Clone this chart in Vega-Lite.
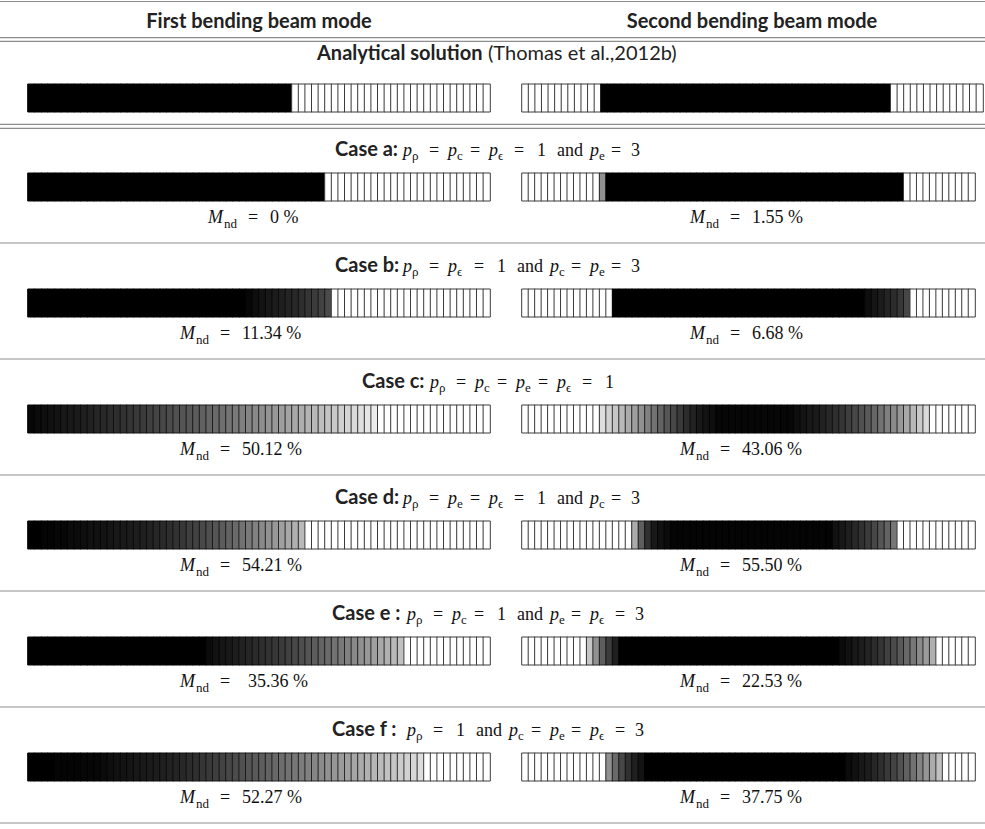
{
"width": 985, "height": 829, "padding": 0, "autosize": {"type": "none"},
"background": "white",
"config": {"view": {"stroke": null}},
"datasets": {
"lines": [{"k":-1,"p":"t"},{"k":-1,"p":"d1"},{"k":-1,"p":"d2"},{"k":-1,"p":"d3"},{"k":-1,"p":"d4"},{"k":0,"p":"s"},{"k":1,"p":"s"},{"k":2,"p":"s"},{"k":3,"p":"s"},{"k":4,"p":"s"},{"k":5,"p":"s"}],
"txt": [
{"n":0,"r":"h","k":-1,"s":"B","t":"First bending beam mode"},
{"n":1,"r":"h","k":-1,"s":"B","t":"Second bending beam mode"},
{"n":2,"r":"a","k":-1,"s":"B","t":"Analytical solution"},
{"n":3,"r":"a","k":-1,"s":"R","t":"(Thomas et al.,2012b)"},
{"n":4,"r":"t","k":0,"s":"B","t":"Case a:"},{"n":5,"r":"t","k":0,"s":"I","t":"p"},{"n":6,"r":"t","k":0,"s":"S","t":"ρ"},{"n":7,"r":"t","k":0,"s":"R","t":"="},{"n":8,"r":"t","k":0,"s":"I","t":"p"},{"n":9,"r":"t","k":0,"s":"S","t":"c"},{"n":10,"r":"t","k":0,"s":"R","t":"="},{"n":11,"r":"t","k":0,"s":"I","t":"p"},{"n":12,"r":"t","k":0,"s":"S","t":"ϵ"},{"n":13,"r":"t","k":0,"s":"R","t":"="},{"n":14,"r":"t","k":0,"s":"R","t":"1"},{"n":15,"r":"t","k":0,"s":"R","t":"and"},{"n":16,"r":"t","k":0,"s":"I","t":"p"},{"n":17,"r":"t","k":0,"s":"S","t":"e"},{"n":18,"r":"t","k":0,"s":"R","t":"="},{"n":19,"r":"t","k":0,"s":"R","t":"3"},
{"n":20,"r":"t","k":1,"s":"B","t":"Case b:"},{"n":21,"r":"t","k":1,"s":"I","t":"p"},{"n":22,"r":"t","k":1,"s":"S","t":"ρ"},{"n":23,"r":"t","k":1,"s":"R","t":"="},{"n":24,"r":"t","k":1,"s":"I","t":"p"},{"n":25,"r":"t","k":1,"s":"S","t":"ϵ"},{"n":26,"r":"t","k":1,"s":"R","t":"="},{"n":27,"r":"t","k":1,"s":"R","t":"1"},{"n":28,"r":"t","k":1,"s":"R","t":"and"},{"n":29,"r":"t","k":1,"s":"I","t":"p"},{"n":30,"r":"t","k":1,"s":"S","t":"c"},{"n":31,"r":"t","k":1,"s":"R","t":"="},{"n":32,"r":"t","k":1,"s":"I","t":"p"},{"n":33,"r":"t","k":1,"s":"S","t":"e"},{"n":34,"r":"t","k":1,"s":"R","t":"="},{"n":35,"r":"t","k":1,"s":"R","t":"3"},
{"n":36,"r":"t","k":2,"s":"B","t":"Case c:"},{"n":37,"r":"t","k":2,"s":"I","t":"p"},{"n":38,"r":"t","k":2,"s":"S","t":"ρ"},{"n":39,"r":"t","k":2,"s":"R","t":"="},{"n":40,"r":"t","k":2,"s":"I","t":"p"},{"n":41,"r":"t","k":2,"s":"S","t":"c"},{"n":42,"r":"t","k":2,"s":"R","t":"="},{"n":43,"r":"t","k":2,"s":"I","t":"p"},{"n":44,"r":"t","k":2,"s":"S","t":"e"},{"n":45,"r":"t","k":2,"s":"R","t":"="},{"n":46,"r":"t","k":2,"s":"I","t":"p"},{"n":47,"r":"t","k":2,"s":"S","t":"ϵ"},{"n":48,"r":"t","k":2,"s":"R","t":"="},{"n":49,"r":"t","k":2,"s":"R","t":"1"},
{"n":50,"r":"t","k":3,"s":"B","t":"Case d:"},{"n":51,"r":"t","k":3,"s":"I","t":"p"},{"n":52,"r":"t","k":3,"s":"S","t":"ρ"},{"n":53,"r":"t","k":3,"s":"R","t":"="},{"n":54,"r":"t","k":3,"s":"I","t":"p"},{"n":55,"r":"t","k":3,"s":"S","t":"e"},{"n":56,"r":"t","k":3,"s":"R","t":"="},{"n":57,"r":"t","k":3,"s":"I","t":"p"},{"n":58,"r":"t","k":3,"s":"S","t":"ϵ"},{"n":59,"r":"t","k":3,"s":"R","t":"="},{"n":60,"r":"t","k":3,"s":"R","t":"1"},{"n":61,"r":"t","k":3,"s":"R","t":"and"},{"n":62,"r":"t","k":3,"s":"I","t":"p"},{"n":63,"r":"t","k":3,"s":"S","t":"c"},{"n":64,"r":"t","k":3,"s":"R","t":"="},{"n":65,"r":"t","k":3,"s":"R","t":"3"},
{"n":66,"r":"t","k":4,"s":"B","t":"Case e :"},{"n":67,"r":"t","k":4,"s":"I","t":"p"},{"n":68,"r":"t","k":4,"s":"S","t":"ρ"},{"n":69,"r":"t","k":4,"s":"R","t":"="},{"n":70,"r":"t","k":4,"s":"I","t":"p"},{"n":71,"r":"t","k":4,"s":"S","t":"c"},{"n":72,"r":"t","k":4,"s":"R","t":"="},{"n":73,"r":"t","k":4,"s":"R","t":"1"},{"n":74,"r":"t","k":4,"s":"R","t":"and"},{"n":75,"r":"t","k":4,"s":"I","t":"p"},{"n":76,"r":"t","k":4,"s":"S","t":"e"},{"n":77,"r":"t","k":4,"s":"R","t":"="},{"n":78,"r":"t","k":4,"s":"I","t":"p"},{"n":79,"r":"t","k":4,"s":"S","t":"ϵ"},{"n":80,"r":"t","k":4,"s":"R","t":"="},{"n":81,"r":"t","k":4,"s":"R","t":"3"},
{"n":82,"r":"t","k":5,"s":"B","t":"Case f :"},{"n":83,"r":"t","k":5,"s":"I","t":"p"},{"n":84,"r":"t","k":5,"s":"S","t":"ρ"},{"n":85,"r":"t","k":5,"s":"R","t":"="},{"n":86,"r":"t","k":5,"s":"R","t":"1"},{"n":87,"r":"t","k":5,"s":"R","t":"and"},{"n":88,"r":"t","k":5,"s":"I","t":"p"},{"n":89,"r":"t","k":5,"s":"S","t":"c"},{"n":90,"r":"t","k":5,"s":"R","t":"="},{"n":91,"r":"t","k":5,"s":"I","t":"p"},{"n":92,"r":"t","k":5,"s":"S","t":"e"},{"n":93,"r":"t","k":5,"s":"R","t":"="},{"n":94,"r":"t","k":5,"s":"I","t":"p"},{"n":95,"r":"t","k":5,"s":"S","t":"ϵ"},{"n":96,"r":"t","k":5,"s":"R","t":"="},{"n":97,"r":"t","k":5,"s":"R","t":"3"},
{"n":98,"r":"m","k":0,"s":"I","t":"M"},{"n":99,"r":"m","k":0,"s":"S","t":"nd"},{"n":100,"r":"m","k":0,"s":"R","t":"="},{"n":101,"r":"m","k":0,"s":"R","t":"0 %"},
{"n":102,"r":"m","k":0,"s":"I","t":"M"},{"n":103,"r":"m","k":0,"s":"S","t":"nd"},{"n":104,"r":"m","k":0,"s":"R","t":"="},{"n":105,"r":"m","k":0,"s":"R","t":"1.55 %"},
{"n":106,"r":"m","k":1,"s":"I","t":"M"},{"n":107,"r":"m","k":1,"s":"S","t":"nd"},{"n":108,"r":"m","k":1,"s":"R","t":"="},{"n":109,"r":"m","k":1,"s":"R","t":"11.34 %"},
{"n":110,"r":"m","k":1,"s":"I","t":"M"},{"n":111,"r":"m","k":1,"s":"S","t":"nd"},{"n":112,"r":"m","k":1,"s":"R","t":"="},{"n":113,"r":"m","k":1,"s":"R","t":"6.68 %"},
{"n":114,"r":"m","k":2,"s":"I","t":"M"},{"n":115,"r":"m","k":2,"s":"S","t":"nd"},{"n":116,"r":"m","k":2,"s":"R","t":"="},{"n":117,"r":"m","k":2,"s":"R","t":"50.12 %"},
{"n":118,"r":"m","k":2,"s":"I","t":"M"},{"n":119,"r":"m","k":2,"s":"S","t":"nd"},{"n":120,"r":"m","k":2,"s":"R","t":"="},{"n":121,"r":"m","k":2,"s":"R","t":"43.06 %"},
{"n":122,"r":"m","k":3,"s":"I","t":"M"},{"n":123,"r":"m","k":3,"s":"S","t":"nd"},{"n":124,"r":"m","k":3,"s":"R","t":"="},{"n":125,"r":"m","k":3,"s":"R","t":"54.21 %"},
{"n":126,"r":"m","k":3,"s":"I","t":"M"},{"n":127,"r":"m","k":3,"s":"S","t":"nd"},{"n":128,"r":"m","k":3,"s":"R","t":"="},{"n":129,"r":"m","k":3,"s":"R","t":"55.50 %"},
{"n":130,"r":"m","k":4,"s":"I","t":"M"},{"n":131,"r":"m","k":4,"s":"S","t":"nd"},{"n":132,"r":"m","k":4,"s":"R","t":"="},{"n":133,"r":"m","k":4,"s":"R","t":"35.36 %"},
{"n":134,"r":"m","k":4,"s":"I","t":"M"},{"n":135,"r":"m","k":4,"s":"S","t":"nd"},{"n":136,"r":"m","k":4,"s":"R","t":"="},{"n":137,"r":"m","k":4,"s":"R","t":"22.53 %"},
{"n":138,"r":"m","k":5,"s":"I","t":"M"},{"n":139,"r":"m","k":5,"s":"S","t":"nd"},{"n":140,"r":"m","k":5,"s":"R","t":"="},{"n":141,"r":"m","k":5,"s":"R","t":"52.27 %"},
{"n":142,"r":"m","k":5,"s":"I","t":"M"},{"n":143,"r":"m","k":5,"s":"S","t":"nd"},{"n":144,"r":"m","k":5,"s":"R","t":"="},{"n":145,"r":"m","k":5,"s":"R","t":"37.75 %"}
],
"cells": [
{"m":"L","k":-1,"i":0,"v":0},{"m":"L","k":-1,"i":1,"v":0},{"m":"L","k":-1,"i":2,"v":0},{"m":"L","k":-1,"i":3,"v":0},{"m":"L","k":-1,"i":4,"v":0},{"m":"L","k":-1,"i":5,"v":0},{"m":"L","k":-1,"i":6,"v":0},{"m":"L","k":-1,"i":7,"v":0},{"m":"L","k":-1,"i":8,"v":0},{"m":"L","k":-1,"i":9,"v":0},
{"m":"L","k":-1,"i":10,"v":0},{"m":"L","k":-1,"i":11,"v":0},{"m":"L","k":-1,"i":12,"v":0},{"m":"L","k":-1,"i":13,"v":0},{"m":"L","k":-1,"i":14,"v":0},{"m":"L","k":-1,"i":15,"v":0},{"m":"L","k":-1,"i":16,"v":0},{"m":"L","k":-1,"i":17,"v":0},{"m":"L","k":-1,"i":18,"v":0},{"m":"L","k":-1,"i":19,"v":0},
{"m":"L","k":-1,"i":20,"v":0},{"m":"L","k":-1,"i":21,"v":0},{"m":"L","k":-1,"i":22,"v":0},{"m":"L","k":-1,"i":23,"v":0},{"m":"L","k":-1,"i":24,"v":0},{"m":"L","k":-1,"i":25,"v":0},{"m":"L","k":-1,"i":26,"v":0},{"m":"L","k":-1,"i":27,"v":0},{"m":"L","k":-1,"i":28,"v":0},{"m":"L","k":-1,"i":29,"v":0},
{"m":"L","k":-1,"i":30,"v":0},{"m":"L","k":-1,"i":31,"v":0},{"m":"L","k":-1,"i":32,"v":0},{"m":"L","k":-1,"i":33,"v":0},{"m":"L","k":-1,"i":34,"v":0},{"m":"L","k":-1,"i":35,"v":0},{"m":"L","k":-1,"i":36,"v":0},{"m":"L","k":-1,"i":37,"v":0},{"m":"L","k":-1,"i":38,"v":0},{"m":"L","k":-1,"i":39,"v":0},
{"m":"L","k":-1,"i":40,"v":1},{"m":"L","k":-1,"i":41,"v":1},{"m":"L","k":-1,"i":42,"v":1},{"m":"L","k":-1,"i":43,"v":1},{"m":"L","k":-1,"i":44,"v":1},{"m":"L","k":-1,"i":45,"v":1},{"m":"L","k":-1,"i":46,"v":1},{"m":"L","k":-1,"i":47,"v":1},{"m":"L","k":-1,"i":48,"v":1},{"m":"L","k":-1,"i":49,"v":1},
{"m":"L","k":-1,"i":50,"v":1},{"m":"L","k":-1,"i":51,"v":1},{"m":"L","k":-1,"i":52,"v":1},{"m":"L","k":-1,"i":53,"v":1},{"m":"L","k":-1,"i":54,"v":1},{"m":"L","k":-1,"i":55,"v":1},{"m":"L","k":-1,"i":56,"v":1},{"m":"L","k":-1,"i":57,"v":1},{"m":"L","k":-1,"i":58,"v":1},{"m":"L","k":-1,"i":59,"v":1},
{"m":"L","k":-1,"i":60,"v":1},{"m":"L","k":-1,"i":61,"v":1},{"m":"L","k":-1,"i":62,"v":1},{"m":"L","k":-1,"i":63,"v":1},{"m":"L","k":-1,"i":64,"v":1},{"m":"L","k":-1,"i":65,"v":1},{"m":"L","k":-1,"i":66,"v":1},{"m":"L","k":-1,"i":67,"v":1},{"m":"L","k":-1,"i":68,"v":1},{"m":"L","k":-1,"i":69,"v":1},
{"m":"R","k":-1,"i":0,"v":1},{"m":"R","k":-1,"i":1,"v":1},{"m":"R","k":-1,"i":2,"v":1},{"m":"R","k":-1,"i":3,"v":1},{"m":"R","k":-1,"i":4,"v":1},{"m":"R","k":-1,"i":5,"v":1},{"m":"R","k":-1,"i":6,"v":1},{"m":"R","k":-1,"i":7,"v":1},{"m":"R","k":-1,"i":8,"v":1},{"m":"R","k":-1,"i":9,"v":1},
{"m":"R","k":-1,"i":10,"v":1},{"m":"R","k":-1,"i":11,"v":1},{"m":"R","k":-1,"i":12,"v":0},{"m":"R","k":-1,"i":13,"v":0},{"m":"R","k":-1,"i":14,"v":0},{"m":"R","k":-1,"i":15,"v":0},{"m":"R","k":-1,"i":16,"v":0},{"m":"R","k":-1,"i":17,"v":0},{"m":"R","k":-1,"i":18,"v":0},{"m":"R","k":-1,"i":19,"v":0},
{"m":"R","k":-1,"i":20,"v":0},{"m":"R","k":-1,"i":21,"v":0},{"m":"R","k":-1,"i":22,"v":0},{"m":"R","k":-1,"i":23,"v":0},{"m":"R","k":-1,"i":24,"v":0},{"m":"R","k":-1,"i":25,"v":0},{"m":"R","k":-1,"i":26,"v":0},{"m":"R","k":-1,"i":27,"v":0},{"m":"R","k":-1,"i":28,"v":0},{"m":"R","k":-1,"i":29,"v":0},
{"m":"R","k":-1,"i":30,"v":0},{"m":"R","k":-1,"i":31,"v":0},{"m":"R","k":-1,"i":32,"v":0},{"m":"R","k":-1,"i":33,"v":0},{"m":"R","k":-1,"i":34,"v":0},{"m":"R","k":-1,"i":35,"v":0},{"m":"R","k":-1,"i":36,"v":0},{"m":"R","k":-1,"i":37,"v":0},{"m":"R","k":-1,"i":38,"v":0},{"m":"R","k":-1,"i":39,"v":0},
{"m":"R","k":-1,"i":40,"v":0},{"m":"R","k":-1,"i":41,"v":0},{"m":"R","k":-1,"i":42,"v":0},{"m":"R","k":-1,"i":43,"v":0},{"m":"R","k":-1,"i":44,"v":0},{"m":"R","k":-1,"i":45,"v":0},{"m":"R","k":-1,"i":46,"v":0},{"m":"R","k":-1,"i":47,"v":0},{"m":"R","k":-1,"i":48,"v":0},{"m":"R","k":-1,"i":49,"v":0},
{"m":"R","k":-1,"i":50,"v":0},{"m":"R","k":-1,"i":51,"v":0},{"m":"R","k":-1,"i":52,"v":0},{"m":"R","k":-1,"i":53,"v":0},{"m":"R","k":-1,"i":54,"v":0},{"m":"R","k":-1,"i":55,"v":0},{"m":"R","k":-1,"i":56,"v":1},{"m":"R","k":-1,"i":57,"v":1},{"m":"R","k":-1,"i":58,"v":1},{"m":"R","k":-1,"i":59,"v":1},
{"m":"R","k":-1,"i":60,"v":1},{"m":"R","k":-1,"i":61,"v":1},{"m":"R","k":-1,"i":62,"v":1},{"m":"R","k":-1,"i":63,"v":1},{"m":"R","k":-1,"i":64,"v":1},{"m":"R","k":-1,"i":65,"v":1},{"m":"R","k":-1,"i":66,"v":1},{"m":"R","k":-1,"i":67,"v":1},{"m":"R","k":-1,"i":68,"v":1},{"m":"R","k":-1,"i":69,"v":1},
{"m":"L","k":0,"i":0,"v":0},{"m":"L","k":0,"i":1,"v":0},{"m":"L","k":0,"i":2,"v":0},{"m":"L","k":0,"i":3,"v":0},{"m":"L","k":0,"i":4,"v":0},{"m":"L","k":0,"i":5,"v":0},{"m":"L","k":0,"i":6,"v":0},{"m":"L","k":0,"i":7,"v":0},{"m":"L","k":0,"i":8,"v":0},{"m":"L","k":0,"i":9,"v":0},
{"m":"L","k":0,"i":10,"v":0},{"m":"L","k":0,"i":11,"v":0},{"m":"L","k":0,"i":12,"v":0},{"m":"L","k":0,"i":13,"v":0},{"m":"L","k":0,"i":14,"v":0},{"m":"L","k":0,"i":15,"v":0},{"m":"L","k":0,"i":16,"v":0},{"m":"L","k":0,"i":17,"v":0},{"m":"L","k":0,"i":18,"v":0},{"m":"L","k":0,"i":19,"v":0},
{"m":"L","k":0,"i":20,"v":0},{"m":"L","k":0,"i":21,"v":0},{"m":"L","k":0,"i":22,"v":0},{"m":"L","k":0,"i":23,"v":0},{"m":"L","k":0,"i":24,"v":0},{"m":"L","k":0,"i":25,"v":0},{"m":"L","k":0,"i":26,"v":0},{"m":"L","k":0,"i":27,"v":0},{"m":"L","k":0,"i":28,"v":0},{"m":"L","k":0,"i":29,"v":0},
{"m":"L","k":0,"i":30,"v":0},{"m":"L","k":0,"i":31,"v":0},{"m":"L","k":0,"i":32,"v":0},{"m":"L","k":0,"i":33,"v":0},{"m":"L","k":0,"i":34,"v":0},{"m":"L","k":0,"i":35,"v":0},{"m":"L","k":0,"i":36,"v":0},{"m":"L","k":0,"i":37,"v":0},{"m":"L","k":0,"i":38,"v":0},{"m":"L","k":0,"i":39,"v":0},
{"m":"L","k":0,"i":40,"v":0},{"m":"L","k":0,"i":41,"v":0},{"m":"L","k":0,"i":42,"v":0},{"m":"L","k":0,"i":43,"v":0},{"m":"L","k":0,"i":44,"v":0},{"m":"L","k":0,"i":45,"v":1},{"m":"L","k":0,"i":46,"v":1},{"m":"L","k":0,"i":47,"v":1},{"m":"L","k":0,"i":48,"v":1},{"m":"L","k":0,"i":49,"v":1},
{"m":"L","k":0,"i":50,"v":1},{"m":"L","k":0,"i":51,"v":1},{"m":"L","k":0,"i":52,"v":1},{"m":"L","k":0,"i":53,"v":1},{"m":"L","k":0,"i":54,"v":1},{"m":"L","k":0,"i":55,"v":1},{"m":"L","k":0,"i":56,"v":1},{"m":"L","k":0,"i":57,"v":1},{"m":"L","k":0,"i":58,"v":1},{"m":"L","k":0,"i":59,"v":1},
{"m":"L","k":0,"i":60,"v":1},{"m":"L","k":0,"i":61,"v":1},{"m":"L","k":0,"i":62,"v":1},{"m":"L","k":0,"i":63,"v":1},{"m":"L","k":0,"i":64,"v":1},{"m":"L","k":0,"i":65,"v":1},{"m":"L","k":0,"i":66,"v":1},{"m":"L","k":0,"i":67,"v":1},{"m":"L","k":0,"i":68,"v":1},{"m":"L","k":0,"i":69,"v":1},
{"m":"R","k":0,"i":0,"v":1},{"m":"R","k":0,"i":1,"v":1},{"m":"R","k":0,"i":2,"v":1},{"m":"R","k":0,"i":3,"v":1},{"m":"R","k":0,"i":4,"v":1},{"m":"R","k":0,"i":5,"v":1},{"m":"R","k":0,"i":6,"v":1},{"m":"R","k":0,"i":7,"v":1},{"m":"R","k":0,"i":8,"v":1},{"m":"R","k":0,"i":9,"v":1},
{"m":"R","k":0,"i":10,"v":1},{"m":"R","k":0,"i":11,"v":1},{"m":"R","k":0,"i":12,"v":0.6},{"m":"R","k":0,"i":13,"v":0},{"m":"R","k":0,"i":14,"v":0},{"m":"R","k":0,"i":15,"v":0},{"m":"R","k":0,"i":16,"v":0},{"m":"R","k":0,"i":17,"v":0},{"m":"R","k":0,"i":18,"v":0},{"m":"R","k":0,"i":19,"v":0},
{"m":"R","k":0,"i":20,"v":0},{"m":"R","k":0,"i":21,"v":0},{"m":"R","k":0,"i":22,"v":0},{"m":"R","k":0,"i":23,"v":0},{"m":"R","k":0,"i":24,"v":0},{"m":"R","k":0,"i":25,"v":0},{"m":"R","k":0,"i":26,"v":0},{"m":"R","k":0,"i":27,"v":0},{"m":"R","k":0,"i":28,"v":0},{"m":"R","k":0,"i":29,"v":0},
{"m":"R","k":0,"i":30,"v":0},{"m":"R","k":0,"i":31,"v":0},{"m":"R","k":0,"i":32,"v":0},{"m":"R","k":0,"i":33,"v":0},{"m":"R","k":0,"i":34,"v":0},{"m":"R","k":0,"i":35,"v":0},{"m":"R","k":0,"i":36,"v":0},{"m":"R","k":0,"i":37,"v":0},{"m":"R","k":0,"i":38,"v":0},{"m":"R","k":0,"i":39,"v":0},
{"m":"R","k":0,"i":40,"v":0},{"m":"R","k":0,"i":41,"v":0},{"m":"R","k":0,"i":42,"v":0},{"m":"R","k":0,"i":43,"v":0},{"m":"R","k":0,"i":44,"v":0},{"m":"R","k":0,"i":45,"v":0},{"m":"R","k":0,"i":46,"v":0},{"m":"R","k":0,"i":47,"v":0},{"m":"R","k":0,"i":48,"v":0},{"m":"R","k":0,"i":49,"v":0},
{"m":"R","k":0,"i":50,"v":0},{"m":"R","k":0,"i":51,"v":0},{"m":"R","k":0,"i":52,"v":0},{"m":"R","k":0,"i":53,"v":0},{"m":"R","k":0,"i":54,"v":0},{"m":"R","k":0,"i":55,"v":0},{"m":"R","k":0,"i":56,"v":0},{"m":"R","k":0,"i":57,"v":0},{"m":"R","k":0,"i":58,"v":0},{"m":"R","k":0,"i":59,"v":1},
{"m":"R","k":0,"i":60,"v":1},{"m":"R","k":0,"i":61,"v":1},{"m":"R","k":0,"i":62,"v":1},{"m":"R","k":0,"i":63,"v":1},{"m":"R","k":0,"i":64,"v":1},{"m":"R","k":0,"i":65,"v":1},{"m":"R","k":0,"i":66,"v":1},{"m":"R","k":0,"i":67,"v":1},{"m":"R","k":0,"i":68,"v":1},{"m":"R","k":0,"i":69,"v":1},
{"m":"L","k":1,"i":0,"v":0},{"m":"L","k":1,"i":1,"v":0},{"m":"L","k":1,"i":2,"v":0},{"m":"L","k":1,"i":3,"v":0},{"m":"L","k":1,"i":4,"v":0},{"m":"L","k":1,"i":5,"v":0},{"m":"L","k":1,"i":6,"v":0},{"m":"L","k":1,"i":7,"v":0},{"m":"L","k":1,"i":8,"v":0},{"m":"L","k":1,"i":9,"v":0},
{"m":"L","k":1,"i":10,"v":0},{"m":"L","k":1,"i":11,"v":0},{"m":"L","k":1,"i":12,"v":0},{"m":"L","k":1,"i":13,"v":0},{"m":"L","k":1,"i":14,"v":0},{"m":"L","k":1,"i":15,"v":0},{"m":"L","k":1,"i":16,"v":0},{"m":"L","k":1,"i":17,"v":0},{"m":"L","k":1,"i":18,"v":0},{"m":"L","k":1,"i":19,"v":0},
{"m":"L","k":1,"i":20,"v":0},{"m":"L","k":1,"i":21,"v":0},{"m":"L","k":1,"i":22,"v":0},{"m":"L","k":1,"i":23,"v":0},{"m":"L","k":1,"i":24,"v":0},{"m":"L","k":1,"i":25,"v":0},{"m":"L","k":1,"i":26,"v":0},{"m":"L","k":1,"i":27,"v":0},{"m":"L","k":1,"i":28,"v":0},{"m":"L","k":1,"i":29,"v":0},
{"m":"L","k":1,"i":30,"v":0},{"m":"L","k":1,"i":31,"v":0},{"m":"L","k":1,"i":32,"v":0},{"m":"L","k":1,"i":33,"v":0.02},{"m":"L","k":1,"i":34,"v":0.04},{"m":"L","k":1,"i":35,"v":0.06},{"m":"L","k":1,"i":36,"v":0.08},{"m":"L","k":1,"i":37,"v":0.1},{"m":"L","k":1,"i":38,"v":0.12},{"m":"L","k":1,"i":39,"v":0.14},
{"m":"L","k":1,"i":40,"v":0.16},{"m":"L","k":1,"i":41,"v":0.19},{"m":"L","k":1,"i":42,"v":0.22},{"m":"L","k":1,"i":43,"v":0.25},{"m":"L","k":1,"i":44,"v":0.28},{"m":"L","k":1,"i":45,"v":0.32},{"m":"L","k":1,"i":46,"v":1},{"m":"L","k":1,"i":47,"v":1},{"m":"L","k":1,"i":48,"v":1},{"m":"L","k":1,"i":49,"v":1},
{"m":"L","k":1,"i":50,"v":1},{"m":"L","k":1,"i":51,"v":1},{"m":"L","k":1,"i":52,"v":1},{"m":"L","k":1,"i":53,"v":1},{"m":"L","k":1,"i":54,"v":1},{"m":"L","k":1,"i":55,"v":1},{"m":"L","k":1,"i":56,"v":1},{"m":"L","k":1,"i":57,"v":1},{"m":"L","k":1,"i":58,"v":1},{"m":"L","k":1,"i":59,"v":1},
{"m":"L","k":1,"i":60,"v":1},{"m":"L","k":1,"i":61,"v":1},{"m":"L","k":1,"i":62,"v":1},{"m":"L","k":1,"i":63,"v":1},{"m":"L","k":1,"i":64,"v":1},{"m":"L","k":1,"i":65,"v":1},{"m":"L","k":1,"i":66,"v":1},{"m":"L","k":1,"i":67,"v":1},{"m":"L","k":1,"i":68,"v":1},{"m":"L","k":1,"i":69,"v":1},
{"m":"R","k":1,"i":0,"v":1},{"m":"R","k":1,"i":1,"v":1},{"m":"R","k":1,"i":2,"v":1},{"m":"R","k":1,"i":3,"v":1},{"m":"R","k":1,"i":4,"v":1},{"m":"R","k":1,"i":5,"v":1},{"m":"R","k":1,"i":6,"v":1},{"m":"R","k":1,"i":7,"v":1},{"m":"R","k":1,"i":8,"v":1},{"m":"R","k":1,"i":9,"v":1},
{"m":"R","k":1,"i":10,"v":1},{"m":"R","k":1,"i":11,"v":1},{"m":"R","k":1,"i":12,"v":1},{"m":"R","k":1,"i":13,"v":1},{"m":"R","k":1,"i":14,"v":0},{"m":"R","k":1,"i":15,"v":0},{"m":"R","k":1,"i":16,"v":0},{"m":"R","k":1,"i":17,"v":0},{"m":"R","k":1,"i":18,"v":0},{"m":"R","k":1,"i":19,"v":0},
{"m":"R","k":1,"i":20,"v":0},{"m":"R","k":1,"i":21,"v":0},{"m":"R","k":1,"i":22,"v":0},{"m":"R","k":1,"i":23,"v":0},{"m":"R","k":1,"i":24,"v":0},{"m":"R","k":1,"i":25,"v":0},{"m":"R","k":1,"i":26,"v":0},{"m":"R","k":1,"i":27,"v":0},{"m":"R","k":1,"i":28,"v":0},{"m":"R","k":1,"i":29,"v":0},
{"m":"R","k":1,"i":30,"v":0},{"m":"R","k":1,"i":31,"v":0},{"m":"R","k":1,"i":32,"v":0},{"m":"R","k":1,"i":33,"v":0},{"m":"R","k":1,"i":34,"v":0},{"m":"R","k":1,"i":35,"v":0},{"m":"R","k":1,"i":36,"v":0},{"m":"R","k":1,"i":37,"v":0},{"m":"R","k":1,"i":38,"v":0},{"m":"R","k":1,"i":39,"v":0},
{"m":"R","k":1,"i":40,"v":0},{"m":"R","k":1,"i":41,"v":0},{"m":"R","k":1,"i":42,"v":0},{"m":"R","k":1,"i":43,"v":0},{"m":"R","k":1,"i":44,"v":0},{"m":"R","k":1,"i":45,"v":0},{"m":"R","k":1,"i":46,"v":0},{"m":"R","k":1,"i":47,"v":0},{"m":"R","k":1,"i":48,"v":0},{"m":"R","k":1,"i":49,"v":0},
{"m":"R","k":1,"i":50,"v":0},{"m":"R","k":1,"i":51,"v":0},{"m":"R","k":1,"i":52,"v":0},{"m":"R","k":1,"i":53,"v":0.04},{"m":"R","k":1,"i":54,"v":0.07},{"m":"R","k":1,"i":55,"v":0.1},{"m":"R","k":1,"i":56,"v":0.14},{"m":"R","k":1,"i":57,"v":0.18},{"m":"R","k":1,"i":58,"v":0.23},{"m":"R","k":1,"i":59,"v":0.3},
{"m":"R","k":1,"i":60,"v":1},{"m":"R","k":1,"i":61,"v":1},{"m":"R","k":1,"i":62,"v":1},{"m":"R","k":1,"i":63,"v":1},{"m":"R","k":1,"i":64,"v":1},{"m":"R","k":1,"i":65,"v":1},{"m":"R","k":1,"i":66,"v":1},{"m":"R","k":1,"i":67,"v":1},{"m":"R","k":1,"i":68,"v":1},{"m":"R","k":1,"i":69,"v":1},
{"m":"L","k":2,"i":0,"v":0.02},{"m":"L","k":2,"i":1,"v":0.03},{"m":"L","k":2,"i":2,"v":0.04},{"m":"L","k":2,"i":3,"v":0.05},{"m":"L","k":2,"i":4,"v":0.06},{"m":"L","k":2,"i":5,"v":0.08},{"m":"L","k":2,"i":6,"v":0.09},{"m":"L","k":2,"i":7,"v":0.1},{"m":"L","k":2,"i":8,"v":0.12},{"m":"L","k":2,"i":9,"v":0.13},
{"m":"L","k":2,"i":10,"v":0.15},{"m":"L","k":2,"i":11,"v":0.16},{"m":"L","k":2,"i":12,"v":0.18},{"m":"L","k":2,"i":13,"v":0.19},{"m":"L","k":2,"i":14,"v":0.21},{"m":"L","k":2,"i":15,"v":0.22},{"m":"L","k":2,"i":16,"v":0.24},{"m":"L","k":2,"i":17,"v":0.25},{"m":"L","k":2,"i":18,"v":0.27},{"m":"L","k":2,"i":19,"v":0.29},
{"m":"L","k":2,"i":20,"v":0.3},{"m":"L","k":2,"i":21,"v":0.32},{"m":"L","k":2,"i":22,"v":0.34},{"m":"L","k":2,"i":23,"v":0.36},{"m":"L","k":2,"i":24,"v":0.37},{"m":"L","k":2,"i":25,"v":0.39},{"m":"L","k":2,"i":26,"v":0.41},{"m":"L","k":2,"i":27,"v":0.43},{"m":"L","k":2,"i":28,"v":0.45},{"m":"L","k":2,"i":29,"v":0.47},
{"m":"L","k":2,"i":30,"v":0.49},{"m":"L","k":2,"i":31,"v":0.51},{"m":"L","k":2,"i":32,"v":0.53},{"m":"L","k":2,"i":33,"v":0.55},{"m":"L","k":2,"i":34,"v":0.57},{"m":"L","k":2,"i":35,"v":0.59},{"m":"L","k":2,"i":36,"v":0.61},{"m":"L","k":2,"i":37,"v":0.63},{"m":"L","k":2,"i":38,"v":0.65},{"m":"L","k":2,"i":39,"v":0.67},
{"m":"L","k":2,"i":40,"v":0.69},{"m":"L","k":2,"i":41,"v":0.71},{"m":"L","k":2,"i":42,"v":0.73},{"m":"L","k":2,"i":43,"v":0.75},{"m":"L","k":2,"i":44,"v":0.77},{"m":"L","k":2,"i":45,"v":0.79},{"m":"L","k":2,"i":46,"v":0.81},{"m":"L","k":2,"i":47,"v":0.83},{"m":"L","k":2,"i":48,"v":0.85},{"m":"L","k":2,"i":49,"v":0.87},
{"m":"L","k":2,"i":50,"v":0.89},{"m":"L","k":2,"i":51,"v":0.91},{"m":"L","k":2,"i":52,"v":0.93},{"m":"L","k":2,"i":53,"v":1},{"m":"L","k":2,"i":54,"v":1},{"m":"L","k":2,"i":55,"v":1},{"m":"L","k":2,"i":56,"v":1},{"m":"L","k":2,"i":57,"v":1},{"m":"L","k":2,"i":58,"v":1},{"m":"L","k":2,"i":59,"v":1},
{"m":"L","k":2,"i":60,"v":1},{"m":"L","k":2,"i":61,"v":1},{"m":"L","k":2,"i":62,"v":1},{"m":"L","k":2,"i":63,"v":1},{"m":"L","k":2,"i":64,"v":1},{"m":"L","k":2,"i":65,"v":1},{"m":"L","k":2,"i":66,"v":1},{"m":"L","k":2,"i":67,"v":1},{"m":"L","k":2,"i":68,"v":1},{"m":"L","k":2,"i":69,"v":1},
{"m":"R","k":2,"i":0,"v":1},{"m":"R","k":2,"i":1,"v":1},{"m":"R","k":2,"i":2,"v":1},{"m":"R","k":2,"i":3,"v":1},{"m":"R","k":2,"i":4,"v":1},{"m":"R","k":2,"i":5,"v":1},{"m":"R","k":2,"i":6,"v":1},{"m":"R","k":2,"i":7,"v":1},{"m":"R","k":2,"i":8,"v":1},{"m":"R","k":2,"i":9,"v":1},
{"m":"R","k":2,"i":10,"v":1},{"m":"R","k":2,"i":11,"v":1},{"m":"R","k":2,"i":12,"v":0.88},{"m":"R","k":2,"i":13,"v":0.84},{"m":"R","k":2,"i":14,"v":0.8},{"m":"R","k":2,"i":15,"v":0.75},{"m":"R","k":2,"i":16,"v":0.7},{"m":"R","k":2,"i":17,"v":0.65},{"m":"R","k":2,"i":18,"v":0.6},{"m":"R","k":2,"i":19,"v":0.54},
{"m":"R","k":2,"i":20,"v":0.48},{"m":"R","k":2,"i":21,"v":0.42},{"m":"R","k":2,"i":22,"v":0.36},{"m":"R","k":2,"i":23,"v":0.3},{"m":"R","k":2,"i":24,"v":0.24},{"m":"R","k":2,"i":25,"v":0.18},{"m":"R","k":2,"i":26,"v":0.13},{"m":"R","k":2,"i":27,"v":0.09},{"m":"R","k":2,"i":28,"v":0.06},{"m":"R","k":2,"i":29,"v":0.04},
{"m":"R","k":2,"i":30,"v":0.02},{"m":"R","k":2,"i":31,"v":0.02},{"m":"R","k":2,"i":32,"v":0.02},{"m":"R","k":2,"i":33,"v":0.02},{"m":"R","k":2,"i":34,"v":0.02},{"m":"R","k":2,"i":35,"v":0.02},{"m":"R","k":2,"i":36,"v":0.02},{"m":"R","k":2,"i":37,"v":0.02},{"m":"R","k":2,"i":38,"v":0.02},{"m":"R","k":2,"i":39,"v":0.02},
{"m":"R","k":2,"i":40,"v":0.02},{"m":"R","k":2,"i":41,"v":0.02},{"m":"R","k":2,"i":42,"v":0.04},{"m":"R","k":2,"i":43,"v":0.06},{"m":"R","k":2,"i":44,"v":0.08},{"m":"R","k":2,"i":45,"v":0.1},{"m":"R","k":2,"i":46,"v":0.13},{"m":"R","k":2,"i":47,"v":0.16},{"m":"R","k":2,"i":48,"v":0.19},{"m":"R","k":2,"i":49,"v":0.22},
{"m":"R","k":2,"i":50,"v":0.26},{"m":"R","k":2,"i":51,"v":0.3},{"m":"R","k":2,"i":52,"v":0.34},{"m":"R","k":2,"i":53,"v":0.38},{"m":"R","k":2,"i":54,"v":0.43},{"m":"R","k":2,"i":55,"v":0.48},{"m":"R","k":2,"i":56,"v":0.53},{"m":"R","k":2,"i":57,"v":0.58},{"m":"R","k":2,"i":58,"v":0.63},{"m":"R","k":2,"i":59,"v":0.69},
{"m":"R","k":2,"i":60,"v":0.75},{"m":"R","k":2,"i":61,"v":0.81},{"m":"R","k":2,"i":62,"v":0.87},{"m":"R","k":2,"i":63,"v":1},{"m":"R","k":2,"i":64,"v":1},{"m":"R","k":2,"i":65,"v":1},{"m":"R","k":2,"i":66,"v":1},{"m":"R","k":2,"i":67,"v":1},{"m":"R","k":2,"i":68,"v":1},{"m":"R","k":2,"i":69,"v":1},
{"m":"L","k":3,"i":0,"v":0},{"m":"L","k":3,"i":1,"v":0},{"m":"L","k":3,"i":2,"v":0.01},{"m":"L","k":3,"i":3,"v":0.01},{"m":"L","k":3,"i":4,"v":0.02},{"m":"L","k":3,"i":5,"v":0.02},{"m":"L","k":3,"i":6,"v":0.03},{"m":"L","k":3,"i":7,"v":0.03},{"m":"L","k":3,"i":8,"v":0.04},{"m":"L","k":3,"i":9,"v":0.05},
{"m":"L","k":3,"i":10,"v":0.05},{"m":"L","k":3,"i":11,"v":0.06},{"m":"L","k":3,"i":12,"v":0.07},{"m":"L","k":3,"i":13,"v":0.08},{"m":"L","k":3,"i":14,"v":0.09},{"m":"L","k":3,"i":15,"v":0.1},{"m":"L","k":3,"i":16,"v":0.11},{"m":"L","k":3,"i":17,"v":0.12},{"m":"L","k":3,"i":18,"v":0.13},{"m":"L","k":3,"i":19,"v":0.15},
{"m":"L","k":3,"i":20,"v":0.17},{"m":"L","k":3,"i":21,"v":0.19},{"m":"L","k":3,"i":22,"v":0.21},{"m":"L","k":3,"i":23,"v":0.23},{"m":"L","k":3,"i":24,"v":0.26},{"m":"L","k":3,"i":25,"v":0.28},{"m":"L","k":3,"i":26,"v":0.31},{"m":"L","k":3,"i":27,"v":0.33},{"m":"L","k":3,"i":28,"v":0.36},{"m":"L","k":3,"i":29,"v":0.39},
{"m":"L","k":3,"i":30,"v":0.42},{"m":"L","k":3,"i":31,"v":0.45},{"m":"L","k":3,"i":32,"v":0.48},{"m":"L","k":3,"i":33,"v":0.51},{"m":"L","k":3,"i":34,"v":0.54},{"m":"L","k":3,"i":35,"v":0.57},{"m":"L","k":3,"i":36,"v":0.6},{"m":"L","k":3,"i":37,"v":0.63},{"m":"L","k":3,"i":38,"v":0.66},{"m":"L","k":3,"i":39,"v":0.69},
{"m":"L","k":3,"i":40,"v":0.72},{"m":"L","k":3,"i":41,"v":0.75},{"m":"L","k":3,"i":42,"v":1},{"m":"L","k":3,"i":43,"v":1},{"m":"L","k":3,"i":44,"v":1},{"m":"L","k":3,"i":45,"v":1},{"m":"L","k":3,"i":46,"v":1},{"m":"L","k":3,"i":47,"v":1},{"m":"L","k":3,"i":48,"v":1},{"m":"L","k":3,"i":49,"v":1},
{"m":"L","k":3,"i":50,"v":1},{"m":"L","k":3,"i":51,"v":1},{"m":"L","k":3,"i":52,"v":1},{"m":"L","k":3,"i":53,"v":1},{"m":"L","k":3,"i":54,"v":1},{"m":"L","k":3,"i":55,"v":1},{"m":"L","k":3,"i":56,"v":1},{"m":"L","k":3,"i":57,"v":1},{"m":"L","k":3,"i":58,"v":1},{"m":"L","k":3,"i":59,"v":1},
{"m":"L","k":3,"i":60,"v":1},{"m":"L","k":3,"i":61,"v":1},{"m":"L","k":3,"i":62,"v":1},{"m":"L","k":3,"i":63,"v":1},{"m":"L","k":3,"i":64,"v":1},{"m":"L","k":3,"i":65,"v":1},{"m":"L","k":3,"i":66,"v":1},{"m":"L","k":3,"i":67,"v":1},{"m":"L","k":3,"i":68,"v":1},{"m":"L","k":3,"i":69,"v":1},
{"m":"R","k":3,"i":0,"v":1},{"m":"R","k":3,"i":1,"v":1},{"m":"R","k":3,"i":2,"v":1},{"m":"R","k":3,"i":3,"v":1},{"m":"R","k":3,"i":4,"v":1},{"m":"R","k":3,"i":5,"v":1},{"m":"R","k":3,"i":6,"v":1},{"m":"R","k":3,"i":7,"v":1},{"m":"R","k":3,"i":8,"v":1},{"m":"R","k":3,"i":9,"v":1},
{"m":"R","k":3,"i":10,"v":1},{"m":"R","k":3,"i":11,"v":1},{"m":"R","k":3,"i":12,"v":1},{"m":"R","k":3,"i":13,"v":1},{"m":"R","k":3,"i":14,"v":1},{"m":"R","k":3,"i":15,"v":1},{"m":"R","k":3,"i":16,"v":1},{"m":"R","k":3,"i":17,"v":0.7},{"m":"R","k":3,"i":18,"v":0.4},{"m":"R","k":3,"i":19,"v":0.2},
{"m":"R","k":3,"i":20,"v":0.08},{"m":"R","k":3,"i":21,"v":0.05},{"m":"R","k":3,"i":22,"v":0.03},{"m":"R","k":3,"i":23,"v":0.01},{"m":"R","k":3,"i":24,"v":0.01},{"m":"R","k":3,"i":25,"v":0.01},{"m":"R","k":3,"i":26,"v":0.01},{"m":"R","k":3,"i":27,"v":0.01},{"m":"R","k":3,"i":28,"v":0.01},{"m":"R","k":3,"i":29,"v":0.01},
{"m":"R","k":3,"i":30,"v":0.01},{"m":"R","k":3,"i":31,"v":0.01},{"m":"R","k":3,"i":32,"v":0.01},{"m":"R","k":3,"i":33,"v":0.01},{"m":"R","k":3,"i":34,"v":0.01},{"m":"R","k":3,"i":35,"v":0.01},{"m":"R","k":3,"i":36,"v":0.01},{"m":"R","k":3,"i":37,"v":0.01},{"m":"R","k":3,"i":38,"v":0.01},{"m":"R","k":3,"i":39,"v":0.01},
{"m":"R","k":3,"i":40,"v":0.01},{"m":"R","k":3,"i":41,"v":0.01},{"m":"R","k":3,"i":42,"v":0.01},{"m":"R","k":3,"i":43,"v":0.01},{"m":"R","k":3,"i":44,"v":0.01},{"m":"R","k":3,"i":45,"v":0.01},{"m":"R","k":3,"i":46,"v":0.01},{"m":"R","k":3,"i":47,"v":0.01},{"m":"R","k":3,"i":48,"v":0.05},{"m":"R","k":3,"i":49,"v":0.08},
{"m":"R","k":3,"i":50,"v":0.12},{"m":"R","k":3,"i":51,"v":0.16},{"m":"R","k":3,"i":52,"v":0.2},{"m":"R","k":3,"i":53,"v":0.25},{"m":"R","k":3,"i":54,"v":0.3},{"m":"R","k":3,"i":55,"v":0.36},{"m":"R","k":3,"i":56,"v":0.42},{"m":"R","k":3,"i":57,"v":0.5},{"m":"R","k":3,"i":58,"v":1},{"m":"R","k":3,"i":59,"v":1},
{"m":"R","k":3,"i":60,"v":1},{"m":"R","k":3,"i":61,"v":1},{"m":"R","k":3,"i":62,"v":1},{"m":"R","k":3,"i":63,"v":1},{"m":"R","k":3,"i":64,"v":1},{"m":"R","k":3,"i":65,"v":1},{"m":"R","k":3,"i":66,"v":1},{"m":"R","k":3,"i":67,"v":1},{"m":"R","k":3,"i":68,"v":1},{"m":"R","k":3,"i":69,"v":1},
{"m":"L","k":4,"i":0,"v":0},{"m":"L","k":4,"i":1,"v":0},{"m":"L","k":4,"i":2,"v":0},{"m":"L","k":4,"i":3,"v":0},{"m":"L","k":4,"i":4,"v":0},{"m":"L","k":4,"i":5,"v":0},{"m":"L","k":4,"i":6,"v":0},{"m":"L","k":4,"i":7,"v":0},{"m":"L","k":4,"i":8,"v":0},{"m":"L","k":4,"i":9,"v":0},
{"m":"L","k":4,"i":10,"v":0},{"m":"L","k":4,"i":11,"v":0},{"m":"L","k":4,"i":12,"v":0},{"m":"L","k":4,"i":13,"v":0},{"m":"L","k":4,"i":14,"v":0},{"m":"L","k":4,"i":15,"v":0},{"m":"L","k":4,"i":16,"v":0},{"m":"L","k":4,"i":17,"v":0},{"m":"L","k":4,"i":18,"v":0},{"m":"L","k":4,"i":19,"v":0},
{"m":"L","k":4,"i":20,"v":0},{"m":"L","k":4,"i":21,"v":0},{"m":"L","k":4,"i":22,"v":0},{"m":"L","k":4,"i":23,"v":0},{"m":"L","k":4,"i":24,"v":0},{"m":"L","k":4,"i":25,"v":0},{"m":"L","k":4,"i":26,"v":0},{"m":"L","k":4,"i":27,"v":0.03},{"m":"L","k":4,"i":28,"v":0.05},{"m":"L","k":4,"i":29,"v":0.07},
{"m":"L","k":4,"i":30,"v":0.09},{"m":"L","k":4,"i":31,"v":0.11},{"m":"L","k":4,"i":32,"v":0.13},{"m":"L","k":4,"i":33,"v":0.15},{"m":"L","k":4,"i":34,"v":0.17},{"m":"L","k":4,"i":35,"v":0.19},{"m":"L","k":4,"i":36,"v":0.21},{"m":"L","k":4,"i":37,"v":0.23},{"m":"L","k":4,"i":38,"v":0.25},{"m":"L","k":4,"i":39,"v":0.27},
{"m":"L","k":4,"i":40,"v":0.3},{"m":"L","k":4,"i":41,"v":0.33},{"m":"L","k":4,"i":42,"v":0.36},{"m":"L","k":4,"i":43,"v":0.39},{"m":"L","k":4,"i":44,"v":0.42},{"m":"L","k":4,"i":45,"v":0.45},{"m":"L","k":4,"i":46,"v":0.48},{"m":"L","k":4,"i":47,"v":0.51},{"m":"L","k":4,"i":48,"v":0.54},{"m":"L","k":4,"i":49,"v":0.57},
{"m":"L","k":4,"i":50,"v":0.6},{"m":"L","k":4,"i":51,"v":0.63},{"m":"L","k":4,"i":52,"v":0.66},{"m":"L","k":4,"i":53,"v":0.69},{"m":"L","k":4,"i":54,"v":0.72},{"m":"L","k":4,"i":55,"v":0.75},{"m":"L","k":4,"i":56,"v":0.78},{"m":"L","k":4,"i":57,"v":1},{"m":"L","k":4,"i":58,"v":1},{"m":"L","k":4,"i":59,"v":1},
{"m":"L","k":4,"i":60,"v":1},{"m":"L","k":4,"i":61,"v":1},{"m":"L","k":4,"i":62,"v":1},{"m":"L","k":4,"i":63,"v":1},{"m":"L","k":4,"i":64,"v":1},{"m":"L","k":4,"i":65,"v":1},{"m":"L","k":4,"i":66,"v":1},{"m":"L","k":4,"i":67,"v":1},{"m":"L","k":4,"i":68,"v":1},{"m":"L","k":4,"i":69,"v":1},
{"m":"R","k":4,"i":0,"v":1},{"m":"R","k":4,"i":1,"v":1},{"m":"R","k":4,"i":2,"v":1},{"m":"R","k":4,"i":3,"v":1},{"m":"R","k":4,"i":4,"v":1},{"m":"R","k":4,"i":5,"v":1},{"m":"R","k":4,"i":6,"v":1},{"m":"R","k":4,"i":7,"v":1},{"m":"R","k":4,"i":8,"v":1},{"m":"R","k":4,"i":9,"v":1},
{"m":"R","k":4,"i":10,"v":0.8},{"m":"R","k":4,"i":11,"v":0.6},{"m":"R","k":4,"i":12,"v":0.4},{"m":"R","k":4,"i":13,"v":0.25},{"m":"R","k":4,"i":14,"v":0.12},{"m":"R","k":4,"i":15,"v":0},{"m":"R","k":4,"i":16,"v":0},{"m":"R","k":4,"i":17,"v":0},{"m":"R","k":4,"i":18,"v":0},{"m":"R","k":4,"i":19,"v":0},
{"m":"R","k":4,"i":20,"v":0},{"m":"R","k":4,"i":21,"v":0},{"m":"R","k":4,"i":22,"v":0},{"m":"R","k":4,"i":23,"v":0},{"m":"R","k":4,"i":24,"v":0},{"m":"R","k":4,"i":25,"v":0},{"m":"R","k":4,"i":26,"v":0},{"m":"R","k":4,"i":27,"v":0},{"m":"R","k":4,"i":28,"v":0},{"m":"R","k":4,"i":29,"v":0},
{"m":"R","k":4,"i":30,"v":0},{"m":"R","k":4,"i":31,"v":0},{"m":"R","k":4,"i":32,"v":0},{"m":"R","k":4,"i":33,"v":0},{"m":"R","k":4,"i":34,"v":0},{"m":"R","k":4,"i":35,"v":0},{"m":"R","k":4,"i":36,"v":0},{"m":"R","k":4,"i":37,"v":0},{"m":"R","k":4,"i":38,"v":0},{"m":"R","k":4,"i":39,"v":0},
{"m":"R","k":4,"i":40,"v":0},{"m":"R","k":4,"i":41,"v":0},{"m":"R","k":4,"i":42,"v":0},{"m":"R","k":4,"i":43,"v":0},{"m":"R","k":4,"i":44,"v":0},{"m":"R","k":4,"i":45,"v":0},{"m":"R","k":4,"i":46,"v":0},{"m":"R","k":4,"i":47,"v":0},{"m":"R","k":4,"i":48,"v":0},{"m":"R","k":4,"i":49,"v":0.03},
{"m":"R","k":4,"i":50,"v":0.05},{"m":"R","k":4,"i":51,"v":0.08},{"m":"R","k":4,"i":52,"v":0.11},{"m":"R","k":4,"i":53,"v":0.14},{"m":"R","k":4,"i":54,"v":0.18},{"m":"R","k":4,"i":55,"v":0.22},{"m":"R","k":4,"i":56,"v":0.27},{"m":"R","k":4,"i":57,"v":0.32},{"m":"R","k":4,"i":58,"v":0.38},{"m":"R","k":4,"i":59,"v":0.44},
{"m":"R","k":4,"i":60,"v":0.5},{"m":"R","k":4,"i":61,"v":0.57},{"m":"R","k":4,"i":62,"v":0.64},{"m":"R","k":4,"i":63,"v":0.72},{"m":"R","k":4,"i":64,"v":1},{"m":"R","k":4,"i":65,"v":1},{"m":"R","k":4,"i":66,"v":1},{"m":"R","k":4,"i":67,"v":1},{"m":"R","k":4,"i":68,"v":1},{"m":"R","k":4,"i":69,"v":1},
{"m":"L","k":5,"i":0,"v":0},{"m":"L","k":5,"i":1,"v":0},{"m":"L","k":5,"i":2,"v":0},{"m":"L","k":5,"i":3,"v":0},{"m":"L","k":5,"i":4,"v":0.01},{"m":"L","k":5,"i":5,"v":0.01},{"m":"L","k":5,"i":6,"v":0.01},{"m":"L","k":5,"i":7,"v":0.01},{"m":"L","k":5,"i":8,"v":0.02},{"m":"L","k":5,"i":9,"v":0.02},
{"m":"L","k":5,"i":10,"v":0.02},{"m":"L","k":5,"i":11,"v":0.03},{"m":"L","k":5,"i":12,"v":0.04},{"m":"L","k":5,"i":13,"v":0.05},{"m":"L","k":5,"i":14,"v":0.06},{"m":"L","k":5,"i":15,"v":0.07},{"m":"L","k":5,"i":16,"v":0.08},{"m":"L","k":5,"i":17,"v":0.09},{"m":"L","k":5,"i":18,"v":0.1},{"m":"L","k":5,"i":19,"v":0.11},
{"m":"L","k":5,"i":20,"v":0.12},{"m":"L","k":5,"i":21,"v":0.13},{"m":"L","k":5,"i":22,"v":0.14},{"m":"L","k":5,"i":23,"v":0.16},{"m":"L","k":5,"i":24,"v":0.18},{"m":"L","k":5,"i":25,"v":0.2},{"m":"L","k":5,"i":26,"v":0.22},{"m":"L","k":5,"i":27,"v":0.24},{"m":"L","k":5,"i":28,"v":0.26},{"m":"L","k":5,"i":29,"v":0.28},
{"m":"L","k":5,"i":30,"v":0.3},{"m":"L","k":5,"i":31,"v":0.32},{"m":"L","k":5,"i":32,"v":0.34},{"m":"L","k":5,"i":33,"v":0.36},{"m":"L","k":5,"i":34,"v":0.38},{"m":"L","k":5,"i":35,"v":0.4},{"m":"L","k":5,"i":36,"v":0.42},{"m":"L","k":5,"i":37,"v":0.44},{"m":"L","k":5,"i":38,"v":0.46},{"m":"L","k":5,"i":39,"v":0.48},
{"m":"L","k":5,"i":40,"v":0.5},{"m":"L","k":5,"i":41,"v":0.52},{"m":"L","k":5,"i":42,"v":0.54},{"m":"L","k":5,"i":43,"v":0.56},{"m":"L","k":5,"i":44,"v":0.58},{"m":"L","k":5,"i":45,"v":0.6},{"m":"L","k":5,"i":46,"v":0.62},{"m":"L","k":5,"i":47,"v":0.64},{"m":"L","k":5,"i":48,"v":0.66},{"m":"L","k":5,"i":49,"v":0.68},
{"m":"L","k":5,"i":50,"v":0.7},{"m":"L","k":5,"i":51,"v":0.72},{"m":"L","k":5,"i":52,"v":0.74},{"m":"L","k":5,"i":53,"v":0.76},{"m":"L","k":5,"i":54,"v":0.78},{"m":"L","k":5,"i":55,"v":0.8},{"m":"L","k":5,"i":56,"v":0.82},{"m":"L","k":5,"i":57,"v":0.84},{"m":"L","k":5,"i":58,"v":0.86},{"m":"L","k":5,"i":59,"v":0.88},
{"m":"L","k":5,"i":60,"v":1},{"m":"L","k":5,"i":61,"v":1},{"m":"L","k":5,"i":62,"v":1},{"m":"L","k":5,"i":63,"v":1},{"m":"L","k":5,"i":64,"v":1},{"m":"L","k":5,"i":65,"v":1},{"m":"L","k":5,"i":66,"v":1},{"m":"L","k":5,"i":67,"v":1},{"m":"L","k":5,"i":68,"v":1},{"m":"L","k":5,"i":69,"v":1},
{"m":"R","k":5,"i":0,"v":1},{"m":"R","k":5,"i":1,"v":1},{"m":"R","k":5,"i":2,"v":1},{"m":"R","k":5,"i":3,"v":1},{"m":"R","k":5,"i":4,"v":1},{"m":"R","k":5,"i":5,"v":1},{"m":"R","k":5,"i":6,"v":1},{"m":"R","k":5,"i":7,"v":1},{"m":"R","k":5,"i":8,"v":1},{"m":"R","k":5,"i":9,"v":1},
{"m":"R","k":5,"i":10,"v":1},{"m":"R","k":5,"i":11,"v":1},{"m":"R","k":5,"i":12,"v":1},{"m":"R","k":5,"i":13,"v":0.6},{"m":"R","k":5,"i":14,"v":0.45},{"m":"R","k":5,"i":15,"v":0.3},{"m":"R","k":5,"i":16,"v":0.2},{"m":"R","k":5,"i":17,"v":0.12},{"m":"R","k":5,"i":18,"v":0.06},{"m":"R","k":5,"i":19,"v":0},
{"m":"R","k":5,"i":20,"v":0},{"m":"R","k":5,"i":21,"v":0},{"m":"R","k":5,"i":22,"v":0},{"m":"R","k":5,"i":23,"v":0},{"m":"R","k":5,"i":24,"v":0},{"m":"R","k":5,"i":25,"v":0},{"m":"R","k":5,"i":26,"v":0},{"m":"R","k":5,"i":27,"v":0},{"m":"R","k":5,"i":28,"v":0},{"m":"R","k":5,"i":29,"v":0},
{"m":"R","k":5,"i":30,"v":0},{"m":"R","k":5,"i":31,"v":0},{"m":"R","k":5,"i":32,"v":0},{"m":"R","k":5,"i":33,"v":0},{"m":"R","k":5,"i":34,"v":0},{"m":"R","k":5,"i":35,"v":0},{"m":"R","k":5,"i":36,"v":0},{"m":"R","k":5,"i":37,"v":0},{"m":"R","k":5,"i":38,"v":0},{"m":"R","k":5,"i":39,"v":0},
{"m":"R","k":5,"i":40,"v":0},{"m":"R","k":5,"i":41,"v":0},{"m":"R","k":5,"i":42,"v":0},{"m":"R","k":5,"i":43,"v":0},{"m":"R","k":5,"i":44,"v":0},{"m":"R","k":5,"i":45,"v":0},{"m":"R","k":5,"i":46,"v":0},{"m":"R","k":5,"i":47,"v":0},{"m":"R","k":5,"i":48,"v":0},{"m":"R","k":5,"i":49,"v":0},
{"m":"R","k":5,"i":50,"v":0.03},{"m":"R","k":5,"i":51,"v":0.05},{"m":"R","k":5,"i":52,"v":0.08},{"m":"R","k":5,"i":53,"v":0.11},{"m":"R","k":5,"i":54,"v":0.15},{"m":"R","k":5,"i":55,"v":0.19},{"m":"R","k":5,"i":56,"v":0.24},{"m":"R","k":5,"i":57,"v":0.29},{"m":"R","k":5,"i":58,"v":0.35},{"m":"R","k":5,"i":59,"v":0.41},
{"m":"R","k":5,"i":60,"v":0.48},{"m":"R","k":5,"i":61,"v":0.55},{"m":"R","k":5,"i":62,"v":0.62},{"m":"R","k":5,"i":63,"v":0.7},{"m":"R","k":5,"i":64,"v":0.78},{"m":"R","k":5,"i":65,"v":1},{"m":"R","k":5,"i":66,"v":1},{"m":"R","k":5,"i":67,"v":1},{"m":"R","k":5,"i":68,"v":1},{"m":"R","k":5,"i":69,"v":1}
]
},
"encoding": {"y": {"field": "k", "type": "quantitative", "scale": {"domain": [-1.612069, 5.534483], "range": [0, 829], "nice": false, "zero": false}, "axis": null}},
"resolve": {"scale": {"x": "independent"}},
"layer": [
{"data": {"name": "lines"}, "transform": [{"filter": "datum.p == 't'"}], "mark": {"type": "rule", "color": "#8c8c8c", "strokeWidth": 1.2, "yOffset": -69.5}, "encoding": {}},
{"data": {"name": "lines"}, "transform": [{"filter": "datum.p == 'd1'"}], "mark": {"type": "rule", "color": "#8c8c8c", "strokeWidth": 1.2, "yOffset": -33.3}, "encoding": {}},
{"data": {"name": "lines"}, "transform": [{"filter": "datum.p == 'd2'"}], "mark": {"type": "rule", "color": "#8c8c8c", "strokeWidth": 1.2, "yOffset": -29.7}, "encoding": {}},
{"data": {"name": "lines"}, "transform": [{"filter": "datum.p == 'd3'"}], "mark": {"type": "rule", "color": "#8c8c8c", "strokeWidth": 1.2, "yOffset": 53.3}, "encoding": {}},
{"data": {"name": "lines"}, "transform": [{"filter": "datum.p == 'd4'"}], "mark": {"type": "rule", "color": "#8c8c8c", "strokeWidth": 1.2, "yOffset": 57.3}, "encoding": {}},
{"data": {"name": "lines"}, "transform": [{"filter": "datum.p == 's'"}], "mark": {"type": "rule", "color": "#8c8c8c", "strokeWidth": 1.2, "yOffset": 56}, "encoding": {}},
{"data": {"name": "cells"}, "transform": [{"filter": "datum.m == 'L' && datum.k >= 0"}],
 "mark": {"type": "tick", "orient": "vertical", "thickness": 7.2, "size": 28, "strokeWidth": 1, "opacity": 1},
 "encoding": {"x": {"field": "i", "type": "ordinal", "scale": {"type": "band", "range": [28, 490], "paddingInner": 0, "paddingOuter": 0}, "axis": null},
  "fill": {"field": "v", "type": "quantitative", "scale": {"domain": [0, 1], "range": ["#000000", "#ffffff"]}, "legend": null},
  "stroke": {"field": "v", "type": "quantitative", "scale": {"domain": [0, 1], "range": ["#000000", "#3c3c3c"]}, "legend": null}}},
{"data": {"name": "cells"}, "transform": [{"filter": "datum.m == 'R' && datum.k >= 0"}],
 "mark": {"type": "tick", "orient": "vertical", "thickness": 7.07, "size": 28, "strokeWidth": 1, "opacity": 1},
 "encoding": {"x": {"field": "i", "type": "ordinal", "scale": {"type": "band", "range": [522, 975], "paddingInner": 0, "paddingOuter": 0}, "axis": null},
  "fill": {"field": "v", "type": "quantitative", "scale": {"domain": [0, 1], "range": ["#000000", "#ffffff"]}, "legend": null},
  "stroke": {"field": "v", "type": "quantitative", "scale": {"domain": [0, 1], "range": ["#000000", "#3c3c3c"]}, "legend": null}}},
{"data": {"name": "cells"}, "transform": [{"filter": "datum.m == 'L' && datum.k < 0"}],
 "mark": {"type": "tick", "orient": "vertical", "thickness": 7.2, "size": 28, "strokeWidth": 1, "opacity": 1, "yOffset": 27},
 "encoding": {"x": {"field": "i", "type": "ordinal", "scale": {"type": "band", "range": [28, 490], "paddingInner": 0, "paddingOuter": 0}, "axis": null},
  "fill": {"field": "v", "type": "quantitative", "scale": {"domain": [0, 1], "range": ["#000000", "#ffffff"]}, "legend": null},
  "stroke": {"field": "v", "type": "quantitative", "scale": {"domain": [0, 1], "range": ["#000000", "#3c3c3c"]}, "legend": null}}},
{"data": {"name": "cells"}, "transform": [{"filter": "datum.m == 'R' && datum.k < 0"}],
 "mark": {"type": "tick", "orient": "vertical", "thickness": 7.19, "size": 28, "strokeWidth": 1, "opacity": 1, "yOffset": 27},
 "encoding": {"x": {"field": "i", "type": "ordinal", "scale": {"type": "band", "range": [522, 983], "paddingInner": 0, "paddingOuter": 0}, "axis": null},
  "fill": {"field": "v", "type": "quantitative", "scale": {"domain": [0, 1], "range": ["#000000", "#ffffff"]}, "legend": null},
  "stroke": {"field": "v", "type": "quantitative", "scale": {"domain": [0, 1], "range": ["#000000", "#3c3c3c"]}, "legend": null}}},
{"data": {"name": "txt"},
 "encoding": {"x": {"field": "n", "type": "quantitative", "axis": null, "scale": {"nice": false, "zero": false,
  "domain": [0,1,2,3,4,5,6,7,8,9,10,11,12,13,14,15,16,17,18,19,20,21,22,23,24,25,26,27,28,29,30,31,32,33,34,35,36,37,38,39,40,41,42,43,44,45,46,47,48,49,50,51,52,53,54,55,56,57,58,59,60,61,62,63,64,65,66,67,68,69,70,71,72,73,74,75,76,77,78,79,80,81,82,83,84,85,86,87,88,89,90,91,92,93,94,95,96,97,98,99,100,101,102,103,104,105,106,107,108,109,110,111,112,113,114,115,116,117,118,119,120,121,122,123,124,125,126,127,128,129,130,131,132,133,134,135,136,137,138,139,140,141,142,143,144,145],
  "range": [259,752,317,488,
   335,403,412,429,448,457,470,489,498,514,537,557,590,599,611,631,
   335,403,412,429,448,457,474,497,517,550,559,571,590,599,611,631,
   362,430,439,456,475,484,497,516,525,538,557,566,582,605,
   335,403,412,429,448,457,470,489,498,514,537,557,590,599,611,631,
   332,407,416,433,452,461,474,497,517,550,559,571,590,599,615,635,
   332,407,416,433,456,476,509,518,531,550,559,571,590,599,615,635,
   208,224,248,270, 690,706,730,752,
   180,196,220,242, 690,706,730,752,
   180,196,220,242, 680,696,720,742,
   180,196,220,242, 680,696,720,742,
   180,196,220,248, 680,696,720,742,
   180,196,220,242, 680,696,720,742]}},
  "text": {"field": "t"}},
 "layer": [
  {"transform": [{"filter": "datum.r == 'h'"}], "mark": {"type": "text", "font": "Lato", "fontWeight": "bold", "fontSize": 20, "align": "center", "baseline": "alphabetic", "dy": -43, "color": "#222222"}},
  {"transform": [{"filter": "datum.r == 'a' && datum.s == 'B'"}], "mark": {"type": "text", "font": "Lato", "fontWeight": "bold", "fontSize": 20, "align": "left", "baseline": "alphabetic", "dy": -11, "color": "#222222"}},
  {"transform": [{"filter": "datum.r == 'a' && datum.s == 'R'"}], "mark": {"type": "text", "font": "Lato", "fontSize": 20, "align": "left", "baseline": "alphabetic", "dy": -11, "color": "#222222"}},
  {"transform": [{"filter": "datum.r == 't' && datum.s == 'B'"}], "mark": {"type": "text", "font": "Lato", "fontWeight": "bold", "fontSize": 20, "align": "left", "baseline": "alphabetic", "dy": -31, "color": "#222222"}},
  {"transform": [{"filter": "datum.r == 't' && datum.s == 'I'"}], "mark": {"type": "text", "font": "Liberation Serif", "fontStyle": "italic", "fontSize": 18, "align": "left", "baseline": "alphabetic", "dy": -31, "color": "#111111"}},
  {"transform": [{"filter": "datum.r == 't' && datum.s == 'S'"}], "mark": {"type": "text", "font": "Liberation Serif", "fontSize": 13, "align": "left", "baseline": "alphabetic", "dy": -27, "color": "#111111"}},
  {"transform": [{"filter": "datum.r == 't' && datum.s == 'R'"}], "mark": {"type": "text", "font": "Liberation Serif", "fontSize": 18, "align": "left", "baseline": "alphabetic", "dy": -31, "color": "#111111"}},
  {"transform": [{"filter": "datum.r == 'm' && datum.s == 'I'"}], "mark": {"type": "text", "font": "Liberation Serif", "fontStyle": "italic", "fontSize": 18, "align": "left", "baseline": "alphabetic", "dy": 36, "color": "#111111"}},
  {"transform": [{"filter": "datum.r == 'm' && datum.s == 'S'"}], "mark": {"type": "text", "font": "Liberation Serif", "fontSize": 13, "align": "left", "baseline": "alphabetic", "dy": 41, "color": "#111111"}},
  {"transform": [{"filter": "datum.r == 'm' && datum.s == 'R'"}], "mark": {"type": "text", "font": "Liberation Serif", "fontSize": 18, "align": "left", "baseline": "alphabetic", "dy": 36, "color": "#111111"}}
 ]}
]
}
